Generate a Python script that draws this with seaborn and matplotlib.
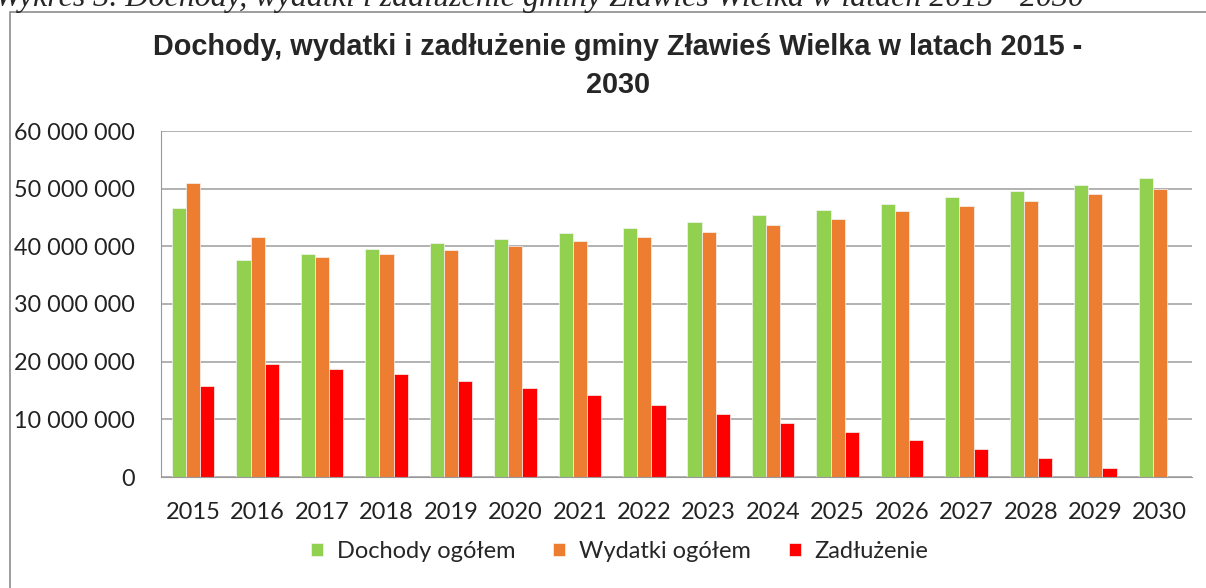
from matplotlib import pyplot as plt
from matplotlib.patches import Rectangle
from matplotlib.ticker import MultipleLocator, FuncFormatter
import numpy as np
import pandas
import seaborn as sns

years = [str(y) for y in range(2015, 2031)]
dochody = [46.7, 37.6, 38.7, 39.6, 40.5, 41.2, 42.3, 43.1, 44.3, 45.4,
           46.3, 47.4, 48.5, 49.6, 50.7, 51.8]
wydatki = [50.9, 41.6, 38.1, 38.7, 39.4, 40.0, 40.9, 41.6, 42.5, 43.7,
           44.8, 46.1, 47.0, 47.9, 49.0, 50.0]
zadluzenie = [15.8, 19.6, 18.7, 17.8, 16.7, 15.4, 14.3, 12.5, 10.9, 9.4,
              7.8, 6.5, 4.9, 3.3, 1.6, 0.0]
series = ["Dochody ogółem", "Wydatki ogółem", "Zadłużenie"]
colors = ["#92D050", "#ED7D31", "#FF0000"]

# long format for seaborn (values in mln -> zł)
df = pandas.DataFrame({
    "rok": years * 3,
    "seria": np.repeat(series, len(years)),
    "kwota": np.array(dochody + wydatki + zadluzenie) * 1e6,
})

sns.set_style("white")
plt.rcParams['font.family'] = ['Lato', 'DejaVu Sans']

fig = plt.figure(figsize=(12.06, 5.88), dpi=100)
ax = fig.add_axes([161/1206, 1 - 477/588, (1192 - 161)/1206, (477 - 131)/588])

g = sns.barplot(data=df, x="rok", y="kwota", hue="seria", palette=colors,
                width=0.66, gap=0, ax=ax, edgecolor="#f4f4f4", linewidth=0.5,
                saturation=1)

# axis settings
ax.set_ylim(0, 60e6)
ax.yaxis.set_major_locator(MultipleLocator(10e6))
ax.yaxis.set_minor_locator(MultipleLocator(2e6))
ax.yaxis.set_major_formatter(FuncFormatter(lambda v, p: f"{int(v):,}".replace(",", " ")))
ax.grid(axis="y", color="#ABABAB", linewidth=1.3)
ax.set_axisbelow(True)
ax.tick_params(axis="y", which="major", direction="out", length=6.5, width=1,
               color="#999999", labelsize=16.8, labelcolor="#222222", pad=12)
ax.tick_params(axis="y", which="minor", direction="out", length=5, width=1, color="#999999")
ax.tick_params(axis="x", length=0, labelsize=17, labelcolor="#222222", pad=18)
ax.set_xlabel("")
ax.set_ylabel("")
for s in ["top", "right"]:
    ax.spines[s].set_visible(False)
ax.spines["left"].set_color("#999999")
ax.spines["bottom"].set_color("#999999")

ax.legend(loc="center", bbox_to_anchor=(0.445, -0.215), ncol=3, frameon=False,
          fontsize=17, handlelength=0.5, handleheight=0.5, handletextpad=0.6,
          columnspacing=1.6)

fig.text(618/1206, 1 - 66/588, "Dochody, wydatki i zadłużenie gminy Zławieś Wielka w latach 2015 -\n2030",
         ha="center", va="center", fontsize=20.8, fontweight="bold",
         family="Liberation Sans", linespacing=1.45)

# caption cut off at the top
fig.text(-0.004, 1 - 6/588, "Wykres 3. Dochody, wydatki i zadłużenie gminy Zławieś Wielka w latach 2015 - 2030",
         ha="left", va="baseline", fontsize=23, style="italic", family="Liberation Serif")

# chart border
fig.patches.append(Rectangle((10/1206, -0.2), 1.5, 1.2 - 12/588, transform=fig.transFigure,
                             fill=False, edgecolor="#8c8c8c", linewidth=1.2))

fig.savefig("out.png", dpi=100)
